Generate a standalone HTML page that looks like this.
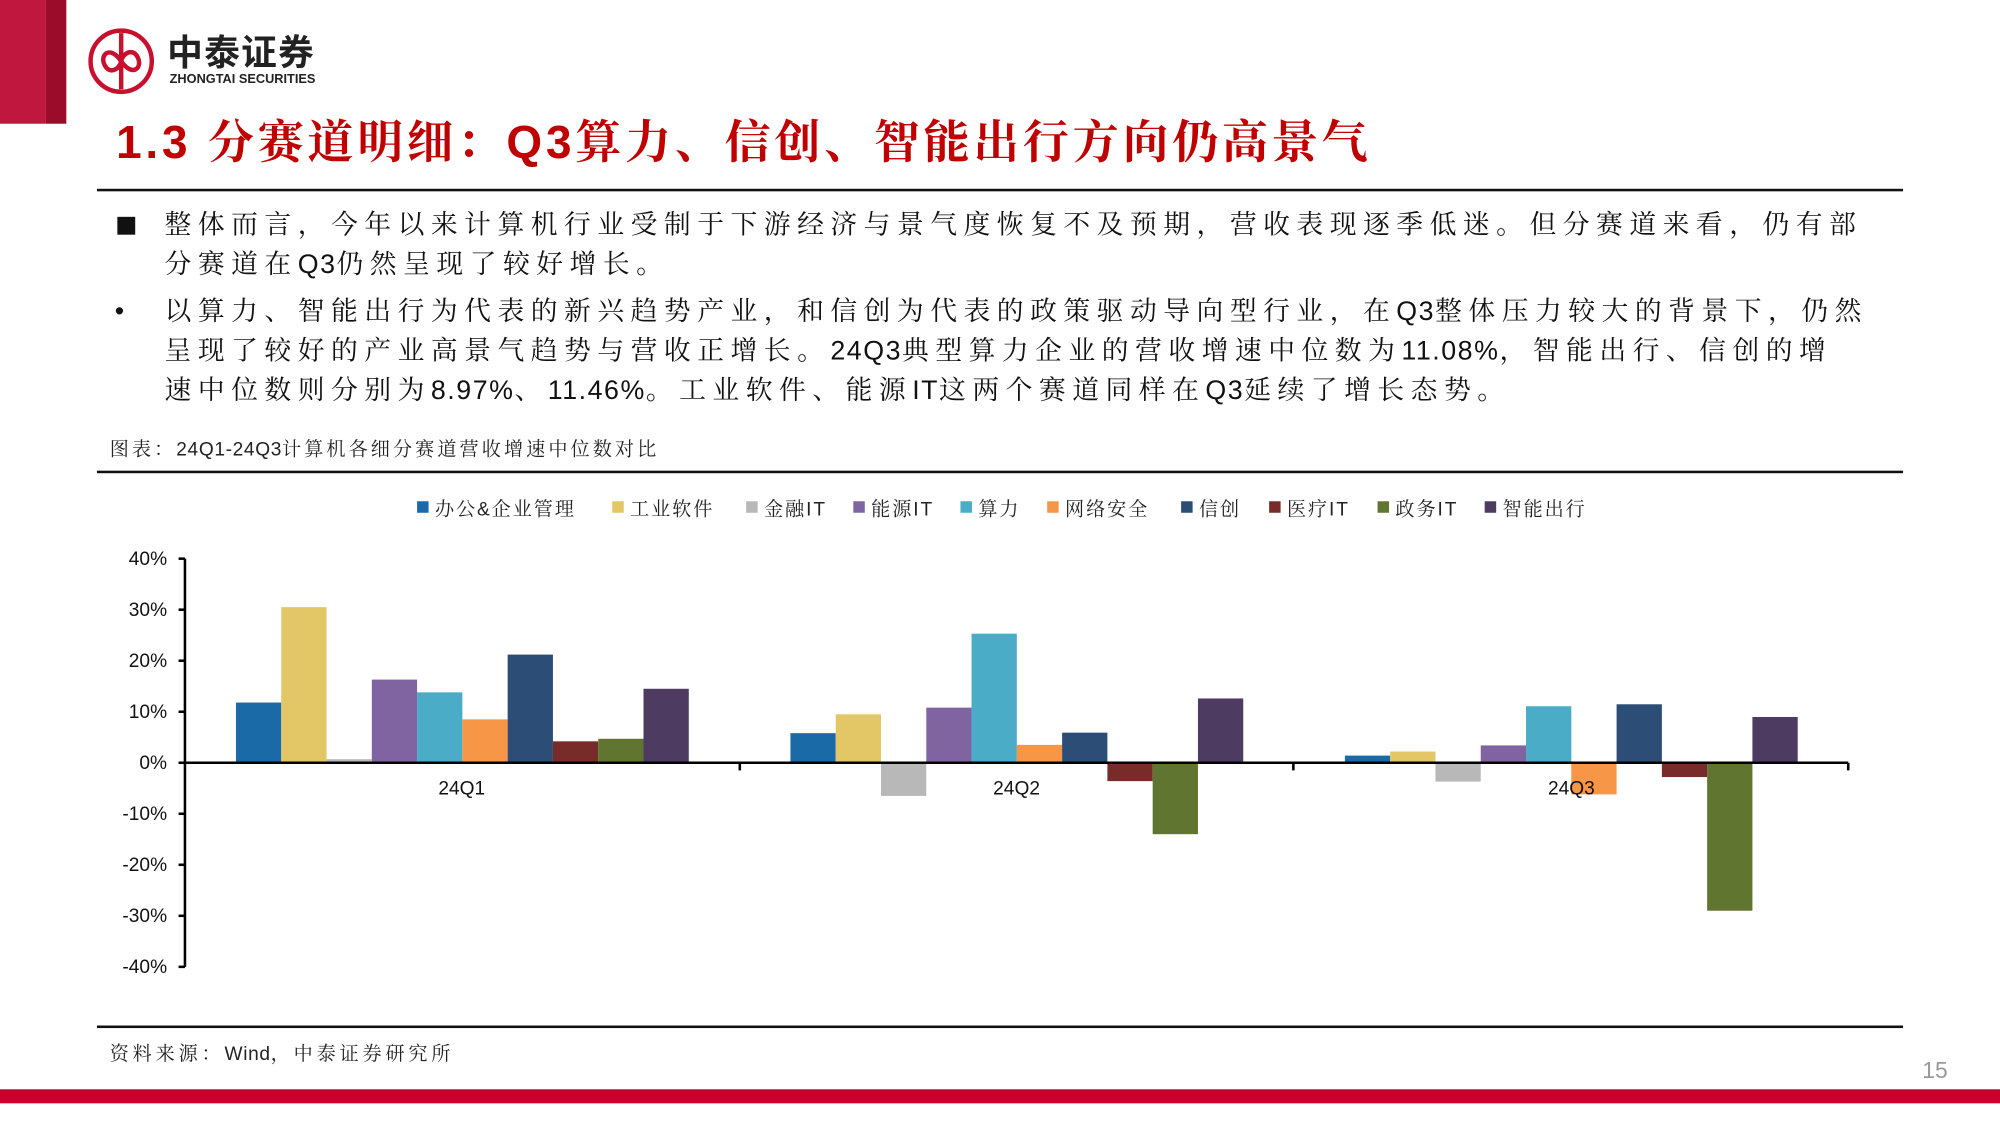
<!DOCTYPE html>
<html><head><meta charset="utf-8"><style>
html,body{margin:0;padding:0;background:#fff;}
body{width:2000px;height:1125px;overflow:hidden;position:relative;}
#s{position:absolute;left:0;top:0;width:1568px;height:882px;transform:scale(1.27551);transform-origin:0 0;}
.a{position:absolute;white-space:nowrap;}
.ser{font-family:"Liberation Sans","Noto Serif CJK SC",serif;}
.p{font-size:21px;line-height:31px;color:#111;letter-spacing:5.1px;}
.l{letter-spacing:1.2px}
</style></head><body><div id="s">
<div class="a" style="left:0;top:0;width:36px;height:97px;background:#c0173f"></div>
<div class="a" style="left:36px;top:0;width:16px;height:97px;background:#9a0c2a"></div>
<svg class="a" style="left:68px;top:21px" width="54" height="54" viewBox="0 0 54 54">
<circle cx="27" cy="27" r="24" fill="none" stroke="#c8102e" stroke-width="3.5"/>
<path d="M27 5 V49 M27 27 C18 14 10 22 14 30 C18 38 26 33 27 27 C28 21 36 16 40 24 C44 32 36 40 27 27" fill="none" stroke="#c8102e" stroke-width="3.5"/>
</svg>
<div class="a" style="left:131px;top:22px;font:bold 28px 'Noto Sans CJK SC',sans-serif;color:#222;letter-spacing:1px;line-height:36px">中泰证券</div>
<div class="a" style="left:133px;top:57px;font:bold 10px 'Liberation Sans',sans-serif;color:#222;">ZHONGTAI SECURITIES</div>
<div class="a ser" style="left:91px;top:88px;font-size:36px;font-weight:bold;color:#c00000;line-height:48px;letter-spacing:3px">1.3 分赛道明细：Q3算力、信创、智能出行方向仍高景气</div>
<div class="a" style="left:76px;top:148px;width:1416px;height:2px;background:#111"></div>
<div class="a" style="left:92px;top:170px;width:14px;height:14px;background:#111"></div>
<div class="a ser p" style="left:129px;top:161px">整体而言，今年以来计算机行业受制于下游经济与景气度恢复不及预期，营收表现逐季低迷。但分赛道来看，仍有部<br>分赛道在<span class="l">Q3</span>仍然呈现了较好增长。</div>
<div class="a ser p" style="left:90px;top:229px">•</div>
<div class="a ser p" style="left:129px;top:229px">以算力、智能出行为代表的新兴趋势产业，和信创为代表的政策驱动导向型行业，在<span class="l">Q3</span>整体压力较大的背景下，仍然<br>呈现了较好的产业高景气趋势与营收正增长。<span class="l">24Q3</span>典型算力企业的营收增速中位数为<span class="l">11.08%</span>，智能出行、信创的增<br>速中位数则分别为<span class="l">8.97%</span>、<span class="l">11.46%</span>。工业软件、能源<span class="l">IT</span>这两个赛道同样在<span class="l">Q3</span>延续了增长态势。</div>
<div class="a ser" style="left:86px;top:341px;font-size:15px;color:#222;letter-spacing:2.4px">图表：<span style="letter-spacing:0.5px">24Q1-24Q3</span>计算机各细分赛道营收增速中位数对比</div>
<div class="a" style="left:76px;top:369px;width:1416px;height:2px;background:#111"></div>
<svg class="a" style="left:0;top:380px" width="1568" height="420" viewBox="0 380 1568 420" font-family="'Liberation Sans','Noto Serif CJK SC',serif">
<g font-size="15" fill="#222" id="leg" letter-spacing="1.5"></g>
<g id="bars"></g>
<g font-size="15" fill="#111" text-anchor="end" id="yl"></g>
<line x1="145" y1="438" x2="145" y2="758" stroke="#000" stroke-width="2"/>
<line x1="145" y1="598" x2="1449" y2="598" stroke="#000" stroke-width="2"/>
<g stroke="#000" stroke-width="2"><line x1="580" y1="598" x2="580" y2="604"/><line x1="1014" y1="598" x2="1014" y2="604"/><line x1="1449" y1="598" x2="1449" y2="604"/></g>
<g font-size="15" fill="#111" text-anchor="middle"><text x="362" y="623">24Q1</text><text x="797" y="623">24Q2</text><text x="1232" y="623">24Q3</text></g>
</svg>
<div class="a" style="left:76px;top:804px;width:1416px;height:2px;background:#111"></div>
<div class="a ser" style="left:86px;top:815px;font-size:15px;color:#222;letter-spacing:3px">资料来源：<span style="letter-spacing:0.5px">Wind</span>，中泰证券研究所</div>
<div class="a" style="left:1507px;top:829px;font:18px 'Liberation Sans',sans-serif;color:#999">15</div>
<div class="a" style="left:0;top:854px;width:1568px;height:11px;background:#c8002d"></div>
</div>
<script>
var ns="http://www.w3.org/2000/svg";
var C=["#1a6aa8","#e3c767","#b8b8b8","#8064a2","#4aacc6","#f79646","#2c4d75","#772c2a","#5f7530","#4d3b62"];
var N=["办公&企业管理","工业软件","金融IT","能源IT","算力","网络安全","信创","医疗IT","政务IT","智能出行"];
var LX=[327,480,585,669,753,821,926,995,1080,1164];
var V=[[11.8,30.5,0.7,16.3,13.8,8.5,21.2,4.2,4.7,14.5],[5.8,9.5,-6.5,10.8,25.3,3.5,5.9,-3.6,-14,12.6],[1.4,2.2,-3.7,3.4,11.08,-6.2,11.46,-2.8,-29,8.97]];
function el(t,a,p,txt){var e=document.createElementNS(ns,t);for(var k in a)e.setAttribute(k,a[k]);if(txt)e.textContent=txt;document.getElementById(p).appendChild(e);}
for(var i=0;i<10;i++){el("rect",{x:LX[i],y:393,width:9,height:9,fill:C[i]},"leg");el("text",{x:LX[i]+14,y:404},"leg",N[i]);}
for(var g=0;g<3;g++)for(var i=0;i<10;i++){var v=V[g][i],x=145+g*434.7+40+i*35.5,h=Math.abs(v)*4;el("rect",{x:x,y:v>=0?598-h:598,width:35.5,height:h,fill:C[i]},"bars");}
for(var k=0;k<9;k++){var val=40-k*10,y=438+k*40;el("text",{x:131,y:y+5},"yl",val+"%");el("line",{x1:140,y1:y,x2:145,y2:y,stroke:"#000","stroke-width":2},"yl");}
</script>
</body></html>
